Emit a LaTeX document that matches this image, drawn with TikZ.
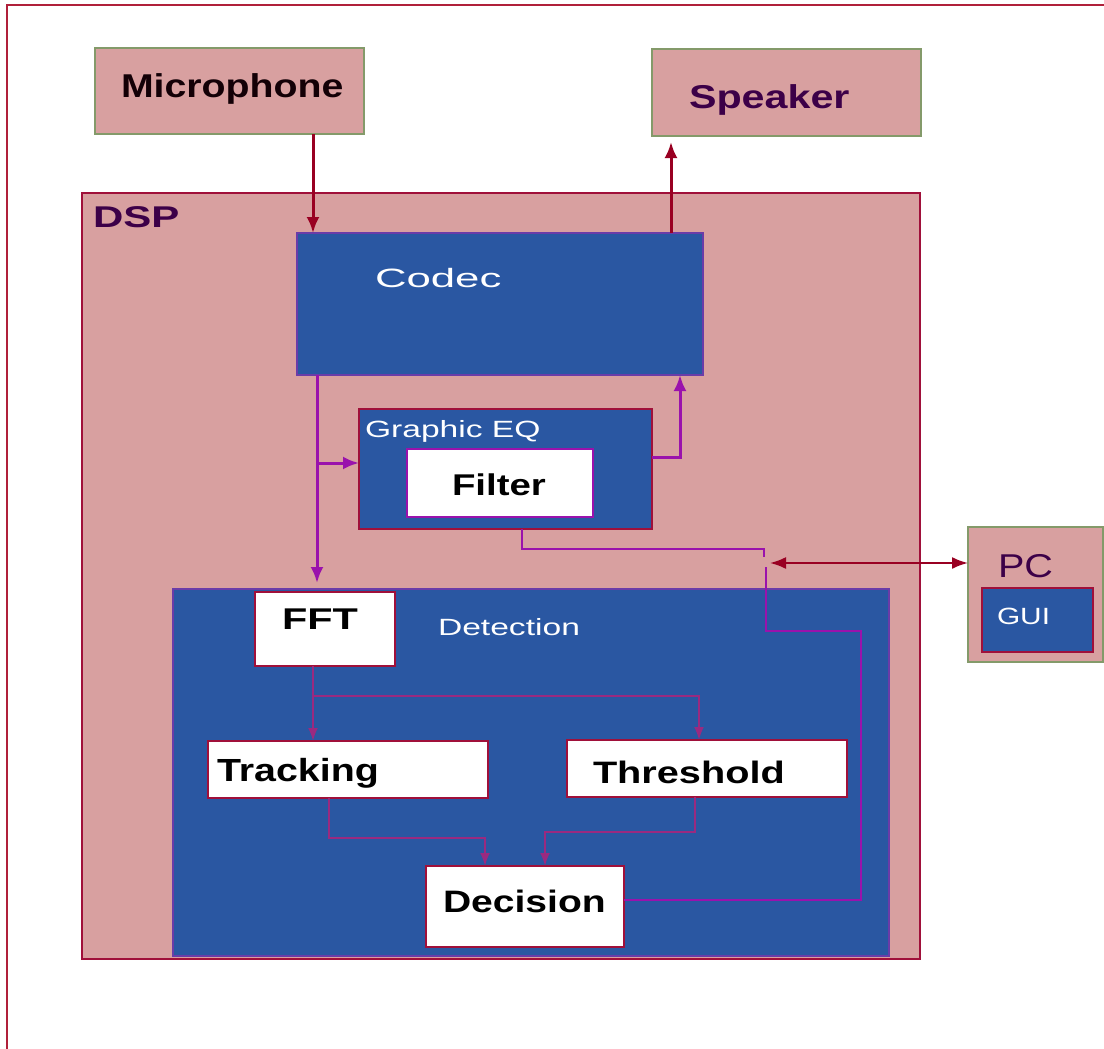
\documentclass[tikz,border=0pt]{standalone}
\usepackage{fontspec}
\setmainfont{Liberation Sans}
\usepackage{graphicx}
\usetikzlibrary{arrows.meta}
\definecolor{pinkbg}{HTML}{D8A0A0}
\definecolor{bluebg}{HTML}{2A57A2}
\definecolor{darkred}{HTML}{990022}
\definecolor{framered}{HTML}{B0203A}
\definecolor{boxred}{HTML}{A0103A}
\definecolor{olive}{HTML}{849A6A}
\definecolor{purp}{HTML}{9A12AC}
\definecolor{innerc}{HTML}{9A2A80}
\definecolor{dpurple}{HTML}{3C0048}
\definecolor{codecb}{HTML}{6A3CA8}
\newcommand\sx[2]{\scalebox{#1}[1]{#2}}
\begin{document}
\begin{tikzpicture}[x=1pt,y=-1pt,
  box/.style={draw, rectangle, inner sep=0pt, outer sep=0pt, anchor=north west},
  pinkbox/.style={box, fill=pinkbg, draw=olive, line width=2pt},
  bluebox/.style={box, fill=bluebg, line width=2pt},
  whitebox/.style={box, fill=white, draw=boxred, line width=2pt},
  txt/.style={inner sep=0pt, outer sep=0pt, anchor=base west},
  bigred/.style={draw=darkred, line width=3pt, -{Latex[length=16pt,width=13pt]}},
  purpline/.style={draw=purp, line width=3pt},
  purparrow/.style={purpline, -{Latex[length=16pt,width=13pt]}},
  purpthin/.style={draw=purp, line width=2.2pt},
  innerline/.style={draw=innerc, line width=2pt, -{Latex[length=13pt,width=10pt]}},
  pcarrow/.style={draw=darkred, line width=2pt, {Latex[length=16pt,width=12pt]}-{Latex[length=16pt,width=12pt]}}
]
\useasboundingbox (0,0) rectangle (1104,1049);
\fill[white] (0,0) rectangle (1104,1049);
% outer frame (cropped)
\draw[framered, line width=2.5pt] (7,1049) -- (7,5) -- (1104,5);

% top boxes
\node[pinkbox, minimum width=269pt, minimum height=86pt] (mic) at (95,48) {};
\node[pinkbox, minimum width=269pt, minimum height=87pt] (spk) at (652,49) {};
\node[txt, font=\bfseries\fontsize{33}{33}\selectfont, text=black!90!purple] (micT) at (121,98) {\sx{1.19}{Microphone}};
\node[txt, font=\bfseries\fontsize{33}{33}\selectfont, text=dpurple] (spkT) at (689,109) {\sx{1.25}{Speaker}};

% DSP
\node[box, fill=pinkbg, draw=boxred, line width=2.5pt, minimum width=838pt, minimum height=766pt] (dsp) at (82,193) {};
\node[txt, font=\bfseries\fontsize{30}{30}\selectfont, text=dpurple] (dspT) at (93,227) {\sx{1.4}{DSP}};

% Codec
\node[bluebox, draw=codecb, minimum width=406pt, minimum height=142pt] (codec) at (297,233) {};
\node[txt, font=\fontsize{26.5}{26.5}\selectfont, text=white] (codecT) at (375,287) {\sx{1.65}{Codec}};

% Graphic EQ
\node[bluebox, draw=boxred, minimum width=293pt, minimum height=120pt] (eq) at (359,409) {};
\node[txt, font=\fontsize{23.5}{23.5}\selectfont, text=white] (eqT) at (365,437) {\sx{1.43}{Graphic EQ}};
\node[box, fill=white, draw=purp, line width=2pt, minimum width=186pt, minimum height=68pt] (filt) at (407,449) {};
\node[txt, font=\bfseries\fontsize{30}{30}\selectfont, text=black] (filtT) at (452,495) {\sx{1.28}{Filter}};

% Detection
\node[bluebox, draw=codecb, minimum width=716pt, minimum height=367pt] (det) at (173,589) {};
\node[txt, font=\fontsize{23.5}{23.5}\selectfont, text=white] (detT) at (438,635) {\sx{1.43}{Detection}};
\node[whitebox, minimum width=140pt, minimum height=74pt] (fft) at (255,592) {};
\node[txt, font=\bfseries\fontsize{30}{30}\selectfont, text=black] (fftT) at (282,629) {\sx{1.38}{FFT}};
\node[whitebox, minimum width=280pt, minimum height=57pt] (trk) at (208,741) {};
\node[txt, font=\bfseries\fontsize{32}{32}\selectfont, text=black] (trkT) at (217,781) {\sx{1.23}{Tracking}};
\node[whitebox, minimum width=280pt, minimum height=57pt] (thr) at (567,740) {};
\node[txt, font=\bfseries\fontsize{31}{31}\selectfont, text=black] (thrT) at (593,783) {\sx{1.28}{Threshold}};
\node[whitebox, minimum width=198pt, minimum height=81pt] (dec) at (426,866) {};
\node[txt, font=\bfseries\fontsize{31}{31}\selectfont, text=black] (decT) at (443,912) {\sx{1.26}{Decision}};

% PC
\node[pinkbox, minimum width=135pt, minimum height=135pt] (pc) at (968,527) {};
\node[txt, font=\fontsize{33}{33}\selectfont, text=dpurple] (pcT) at (998,577) {\sx{1.2}{PC}};
\node[bluebox, draw=boxred, minimum width=111pt, minimum height=64pt] (gui) at (982,588) {};
\node[txt, font=\fontsize{23.5}{23.5}\selectfont, text=white] (guiT) at (997,624) {\sx{1.27}{GUI}};

% connectors
\draw[bigred] (mic.south -| 313,0) -- (codec.north -| 313,0);
\draw[bigred, shorten >=6pt] (codec.north -| 671,0) -- (spk.south -| 671,0);
\draw[purparrow, shorten >=6pt] (codec.south -| 317,0) -- (det.north -| 317,0);
\coordinate (br1) at (317,463);
\draw[purparrow] (br1) -- (eq.west |- 0,463);
\draw[purparrow] (eq.east |- 0,457) -- (680,457) -- (codec.south -| 680,0);
\coordinate (jA) at (764,557);
\coordinate (jB) at (766,567);
\coordinate (jC) at (770,563);
\draw[purpthin] (eq.south -| 522,0) |- (764,549) -- (jA);
\draw[purpthin] (dec.east |- 0,900) -| (861,631) -| (jB);
\draw[pcarrow] (jC) -- (pc.west |- 0,563);

\draw[innerline] (fft.south -| 313,0) -- (trk.north -| 313,0);
\coordinate (br2) at (313,696);
\draw[innerline] (br2) -| (thr.north -| 699,0);
\draw[innerline] (trk.south -| 329,0) |- (485,838) -- (dec.north -| 485,0);
\draw[innerline] (thr.south -| 695,0) |- (545,832) -- (dec.north -| 545,0);
\end{tikzpicture}
\end{document}
